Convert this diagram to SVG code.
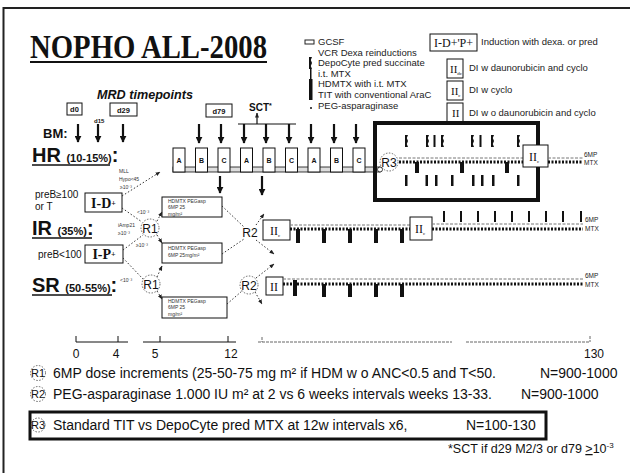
<svg xmlns="http://www.w3.org/2000/svg" width="630" height="473" viewBox="0 0 630 473">
<defs>
<marker id="ah" viewBox="0 0 10 10" refX="9" refY="5" markerWidth="7" markerHeight="7" markerUnits="userSpaceOnUse" orient="auto"><path d="M0,0 L10,5 L0,10 z" fill="#111"/></marker>
<marker id="as" viewBox="0 0 10 10" refX="9" refY="5" markerWidth="5" markerHeight="5" markerUnits="userSpaceOnUse" orient="auto"><path d="M0,1 L10,5 L0,9 z" fill="#222"/></marker>
<path id="depo" d="M0,0 h3 l-1.2,3 l1.2,3 l-1.2,3 l1.2,3 h-3 z"/>
</defs>
<style>
.s{font-family:"Liberation Sans",Arial,sans-serif;fill:#111}
.sr{font-family:"Liberation Serif","Times New Roman",serif;fill:#111}
.box{fill:#fff;stroke:#111;stroke-width:1}
.dot{fill:none;stroke:#333;stroke-width:1;stroke-dasharray:1.5 2}
.dota{fill:none;stroke:#333;stroke-width:1;stroke-dasharray:1.5 2;marker-end:url(#as)}
.big{stroke:#111;stroke-width:2.2;fill:none;marker-end:url(#ah)}
.mtx{stroke:#111;stroke-width:3;stroke-dasharray:2 1.5;fill:none}
.mp{stroke:#777;stroke-width:1;stroke-dasharray:3 1.5;fill:none}
.rc{fill:none;stroke:#444;stroke-width:0.8;stroke-dasharray:1.5 1.5}
.tiny{font-family:"Liberation Sans",Arial,sans-serif;font-size:5px;fill:#333}
.lab{font-family:"Liberation Sans",Arial,sans-serif;font-size:6.5px;fill:#222}
.leg{font-family:"Liberation Sans",Arial,sans-serif;font-size:9.5px;fill:#222}
.legr{font-family:"Liberation Sans",Arial,sans-serif;font-size:9.5px;fill:#222}
.bt{font-family:"Liberation Sans",Arial,sans-serif;font-size:14px;fill:#111}
</style>
<rect width="630" height="473" fill="#fff"/>
<!-- frame -->
<path d="M630,8 H3.5 V473" fill="none" stroke="#222" stroke-width="2"/>

<!-- title -->
<g id="title">
<text x="30" y="58" class="sr" font-size="34" font-weight="bold" textLength="237" lengthAdjust="spacingAndGlyphs">NOPHO ALL-2008</text>
<line x1="30" y1="62" x2="267" y2="62" stroke="#111" stroke-width="2"/>
</g>

<!-- legend -->
<g id="legend">
<rect x="305" y="40" width="9" height="4" fill="#fff" stroke="#222" stroke-width="1"/>
<use href="#depo" x="309" y="57" fill="#111"/>
<rect x="310" y="69" width="1.5" height="10" fill="#111"/>
<rect x="309" y="79" width="3.5" height="21" fill="#111"/>
<circle cx="311" cy="108" r="1" fill="#111"/>
<text class="leg" x="318" y="45">GCSF</text>
<text class="leg" x="318" y="55.5">VCR Dexa reinductions</text>
<text class="leg" x="318" y="66">DepoCyte pred succinate</text>
<text class="leg" x="318" y="76.5">i.t. MTX</text>
<text class="leg" x="318" y="87">HDMTX with i.t. MTX</text>
<text class="leg" x="318" y="98">TIT with conventional AraC</text>
<text class="leg" x="318" y="109">PEG-asparaginase</text>
<rect class="box" x="430" y="34" width="47" height="17"/>
<text class="sr" x="453.5" y="47" font-size="12" text-anchor="middle">I-D+'P+</text>
<text class="legr" x="481" y="45">Induction with dexa. or pred</text>
<rect class="box" x="447" y="59" width="16" height="19"/>
<text class="sr" x="450" y="73" font-size="11">II<tspan font-size="5" dy="2">dc</tspan></text>
<text class="legr" x="469" y="71">DI w daunorubicin and cyclo</text>
<rect class="box" x="447" y="81" width="16" height="19"/>
<text class="sr" x="451" y="95" font-size="11">II<tspan font-size="5" dy="2">c</tspan></text>
<text class="legr" x="469" y="93">DI w cyclo</text>
<rect class="box" x="447" y="103" width="16" height="19"/>
<text class="sr" x="452" y="117" font-size="11">II</text>
<text class="legr" x="469" y="116">DI w o daunorubicin and cyclo</text>
</g>

<!-- MRD timepoints -->
<g id="mrd">
<text class="s" x="97" y="99" font-size="12.5" font-style="italic" font-weight="bold" textLength="96" lengthAdjust="spacingAndGlyphs">MRD timepoints</text>
<rect class="box" x="67" y="103" width="15" height="12"/>
<text class="s" x="74.5" y="112" font-size="7.5" font-weight="bold" text-anchor="middle">d0</text>
<rect class="box" x="110" y="103" width="27" height="13"/>
<text class="s" x="123.5" y="112.5" font-size="7.5" font-weight="bold" text-anchor="middle">d29</text>
<rect class="box" x="206" y="104" width="26" height="13"/>
<text class="s" x="219" y="113.5" font-size="7.5" font-weight="bold" text-anchor="middle">d79</text>
<text class="s" x="94" y="123" font-size="6" font-weight="bold">d15</text>
</g>

<g id="sct">
<text class="s" x="249" y="111" font-size="10" font-weight="bold">SCT<tspan font-size="7" dy="-3">*</tspan></text>
<line x1="238" y1="124" x2="296" y2="124" stroke="#111" stroke-width="1"/>
<line x1="257" y1="124" x2="257" y2="113" stroke="#111" stroke-width="1.2" marker-end="url(#as)"/>
</g>

<!-- BM row -->
<g id="bm">
<text class="s" x="43" y="138" font-size="13" font-weight="bold">BM:</text>
<line class="big" x1="78" y1="124" x2="78" y2="142"/>
<line class="big" x1="98" y1="124" x2="98" y2="142"/>
<line class="big" x1="123" y1="124" x2="123" y2="142"/>
<line class="big" x1="199" y1="124" x2="199" y2="143"/>
<line class="big" x1="221" y1="124" x2="221" y2="143"/>
<line class="big" x1="244" y1="124" x2="244" y2="143"/>
<line class="big" x1="266" y1="124" x2="266" y2="143"/>
<line class="big" x1="289" y1="124" x2="289" y2="143"/>
<line class="big" x1="311" y1="124" x2="311" y2="143"/>
<line class="big" x1="334" y1="124" x2="334" y2="143"/>
<line class="big" x1="356" y1="124" x2="356" y2="143"/>
</g>

<!-- row labels -->
<g id="hr-label">
<text class="s" x="32" y="162" font-size="20" font-weight="bold">HR <tspan font-size="11">(10-15%)</tspan>:</text>
<line x1="32" y1="165" x2="110" y2="165" stroke="#111" stroke-width="1.5"/>
</g>
<g id="ir-label">
<text class="s" x="32" y="235" font-size="20" font-weight="bold">IR <tspan font-size="11">(35%)</tspan>:</text>
<line x1="32" y1="238" x2="92" y2="238" stroke="#111" stroke-width="1.5"/>
</g>
<g id="sr-label">
<text class="s" x="32" y="292" font-size="20" font-weight="bold">SR <tspan font-size="11">(50-55%)</tspan>:</text>
<line x1="32" y1="295" x2="112" y2="295" stroke="#111" stroke-width="1.5"/>
</g>

<!-- induction -->
<g id="induction-d">
<text class="s" x="35" y="198" font-size="10">preB≥100</text>
<text class="s" x="35" y="210" font-size="10">or T</text>
<rect class="box" x="85" y="193" width="37" height="19"/>
<text class="sr" x="103.5" y="207.5" font-size="14" font-weight="bold" text-anchor="middle">I-D<tspan font-size="8" dy="-2">+</tspan></text>
</g>
<g id="induction-p">
<text class="s" x="38" y="258" font-size="10">preB&lt;100</text>
<rect class="box" x="85" y="245" width="38" height="18"/>
<text class="sr" x="104" y="259" font-size="14" font-weight="bold" text-anchor="middle">I-P<tspan font-size="8" dy="-2">+</tspan></text>
</g>

<!-- HR blocks -->
<g id="hr-blocks">
<rect x="173" y="167" width="207" height="5" fill="#ddd" stroke="#111" stroke-width="0.8"/>
<circle cx="380" cy="169.5" r="2.5" fill="#fff" stroke="#111" stroke-width="0.8"/>
<g class="s" font-size="7" font-weight="bold" text-anchor="middle">
<rect class="box" x="173" y="148" width="12" height="24"/><text x="179" y="163">A</text>
<rect class="box" x="195.5" y="148" width="12" height="24"/><text x="201.5" y="163">B</text>
<rect class="box" x="218" y="148" width="12" height="24"/><text x="224" y="163">C</text>
<rect class="box" x="240.5" y="148" width="12" height="24"/><text x="246.5" y="163">A</text>
<rect class="box" x="263" y="148" width="12" height="24"/><text x="269" y="163">B</text>
<rect class="box" x="285.5" y="148" width="12" height="24"/><text x="291.5" y="163">C</text>
<rect class="box" x="308" y="148" width="12" height="24"/><text x="314" y="163">A</text>
<rect class="box" x="330.5" y="148" width="12" height="24"/><text x="336.5" y="163">B</text>
<rect class="box" x="353" y="148" width="12" height="24"/><text x="359" y="163">C</text>
</g>
<line class="big" x1="220" y1="176" x2="220" y2="193"/>
<line class="big" x1="262" y1="176" x2="262" y2="195"/>
</g>

<!-- R3 box -->
<g id="r3">
<rect x="375" y="123" width="163" height="77" fill="none" stroke="#111" stroke-width="4"/>
<circle class="rc" cx="389" cy="162" r="9"/>
<text class="s" x="389" y="166.5" font-size="12" text-anchor="middle">R3</text>
<line class="mp" x1="399" y1="158" x2="523" y2="158"/>
<line class="mtx" x1="399" y1="162" x2="523" y2="162"/>
<g fill="#111">
<use href="#depo" x="405" y="135"/><use href="#depo" x="426" y="135"/><rect x="433.5" y="135" width="2" height="12"/><use href="#depo" x="441" y="135"/>
<use href="#depo" x="471" y="135"/><rect x="479.5" y="135" width="2" height="12"/><use href="#depo" x="491" y="135"/><use href="#depo" x="517" y="135"/>
<rect x="415" y="162" width="4" height="11"/><rect x="460" y="162" width="4" height="11"/><rect x="505" y="162" width="4" height="11"/>
<rect x="405" y="175" width="2.5" height="11"/><rect x="425.5" y="175" width="2.5" height="11"/><rect x="435" y="175" width="2.5" height="11"/><rect x="451" y="175" width="2.5" height="11"/>
<rect x="472" y="175" width="2.5" height="11"/><rect x="481" y="175" width="2.5" height="11"/><rect x="492" y="175" width="2.5" height="11"/><rect x="517" y="175" width="2.5" height="11"/>
</g>
<rect class="box" x="523" y="145" width="25" height="22"/>
<text class="sr" x="529" y="161" font-size="12">II<tspan font-size="5" dy="2">c</tspan></text>
<line class="mp" x1="548" y1="158" x2="583" y2="158"/>
<line class="mtx" x1="548" y1="162" x2="583" y2="162"/>
<text class="lab" x="584" y="157">6MP</text>
<text class="lab" x="584" y="165">MTX</text>
</g>

<!-- HDMTX boxes -->
<g id="hdmtx-a">
<rect class="box" x="162" y="197" width="60" height="20"/>
<text class="tiny" x="168" y="203">HDMTX PEGasp</text>
<text class="tiny" x="168" y="209">6MP 25</text>
<text class="tiny" x="168" y="216">mg/m²</text>
</g>
<g id="hdmtx-b">
<rect class="box" x="162" y="243" width="60" height="20"/>
<text class="tiny" x="168" y="250">HDMTX PEGasp</text>
<text class="tiny" x="168" y="257">6MP 25mg/m²</text>
</g>
<g id="hdmtx-c">
<rect class="box" x="162" y="297" width="65" height="21"/>
<text class="tiny" x="168" y="303">HDMTX PEGasp</text>
<text class="tiny" x="168" y="309">6MP 25</text>
<text class="tiny" x="168" y="316">mg/m²</text>
</g>

<!-- randomisation nodes -->
<g id="r1-ir"><circle class="rc" cx="150" cy="228" r="9"/><text class="s" x="150" y="232.5" font-size="12" text-anchor="middle">R1</text></g>
<g id="r1-sr"><circle class="rc" cx="151" cy="284" r="9"/><text class="s" x="151" y="288.5" font-size="12" text-anchor="middle">R1</text></g>
<g id="r2-ir"><text class="s" x="250" y="237" font-size="12" text-anchor="middle">R2</text></g>
<g id="r2-sr"><circle class="rc" cx="249" cy="285" r="9"/><text class="s" x="249" y="289.5" font-size="12" text-anchor="middle">R2</text></g>

<!-- tiny labels -->
<g id="criteria">
<text class="tiny" x="119" y="173">MLL</text>
<text class="tiny" x="119" y="181">Hypo&lt;45</text>
<text class="tiny" x="120" y="189">≥10⁻³</text>
<text class="tiny" x="137" y="214">&lt;10⁻³</text>
<text class="tiny" x="118" y="227">iAmp21</text>
<text class="tiny" x="118" y="235">≥10⁻³</text>
<text class="tiny" x="136" y="247">≥10⁻³</text>
<text class="tiny" x="120" y="282">&lt;10⁻³</text>
</g>

<!-- IR continuation -->
<g id="ir-course">
<rect class="box" x="263" y="220" width="27" height="20"/>
<text class="sr" x="270" y="235" font-size="12">II<tspan font-size="5" dy="2">c</tspan></text>
<line class="mp" x1="290" y1="225" x2="410" y2="225"/>
<line class="mtx" x1="290" y1="229" x2="410" y2="229"/>
<g fill="#111"><rect x="296" y="229" width="4" height="14"/><rect x="322" y="229" width="4" height="14"/><rect x="348" y="229" width="4" height="14"/><rect x="374" y="229" width="4" height="14"/><rect x="400" y="229" width="4" height="14"/></g>
<rect class="box" x="410" y="217" width="22" height="23"/>
<text class="sr" x="415" y="233" font-size="12">II<tspan font-size="5" dy="2">c</tspan></text>
<line class="mp" x1="432" y1="224" x2="583" y2="224" stroke="#aaa"/>
<line class="mtx" x1="432" y1="229" x2="583" y2="229"/>
<g fill="#111"><rect x="443" y="211" width="2" height="11"/><rect x="460" y="211" width="2" height="11"/><rect x="477" y="211" width="2" height="11"/><rect x="494" y="211" width="2" height="11"/><rect x="511" y="211" width="2" height="11"/><rect x="528" y="211" width="2" height="11"/><rect x="545" y="211" width="2" height="11"/><rect x="562" y="211" width="2" height="11"/><rect x="580" y="211" width="2" height="11"/></g>
<text class="lab" x="585" y="222">6MP</text>
<text class="lab" x="585" y="231">MTX</text>
</g>

<!-- SR continuation -->
<g id="sr-course">
<rect class="box" x="266" y="277" width="17" height="18"/>
<text class="sr" x="270" y="291" font-size="12">II</text>
<line class="mp" x1="283" y1="279" x2="583" y2="279"/>
<line class="mtx" x1="283" y1="284" x2="583" y2="284"/>
<g fill="#111"><rect x="293" y="280" width="4" height="16"/><rect x="322" y="284" width="4" height="13"/><rect x="348" y="284" width="4" height="13"/><rect x="374" y="284" width="4" height="13"/><rect x="400" y="284" width="4" height="13"/></g>
<text class="lab" x="585" y="278">6MP</text>
<text class="lab" x="585" y="287">MTX</text>
</g>

<!-- connectors -->
<g id="connectors">
<line class="dota" x1="122" y1="196" x2="160" y2="172"/>
<line class="dot" x1="122" y1="208" x2="142" y2="222"/>
<line class="dot" x1="123" y1="250" x2="143" y2="235"/>
<line class="dot" x1="123" y1="258" x2="143" y2="279"/>
<line class="dota" x1="157" y1="221" x2="162" y2="212"/>
<line class="dota" x1="157" y1="235" x2="162" y2="243"/>
<line class="dota" x1="157" y1="277" x2="162" y2="266"/>
<line class="dota" x1="157" y1="291" x2="162" y2="299"/>
<line class="dot" x1="222" y1="206" x2="244" y2="227"/>
<line class="dot" x1="222" y1="254" x2="244" y2="239"/>
<line class="dota" x1="256" y1="225" x2="264" y2="214"/>
<line class="dota" x1="256" y1="240" x2="274" y2="254"/>
<line class="dot" x1="227" y1="304" x2="242" y2="291"/>
<line class="dota" x1="256" y1="278" x2="274" y2="264"/>
<line class="dota" x1="255" y1="292" x2="262" y2="304"/>
</g>

<!-- timeline -->
<g id="timeline" stroke="#111" stroke-width="1" fill="none">
<path d="M76,342 H128 M76,336 V342 M118,336 V342"/>
<path d="M143,342 H236 M160,336 V342 M228,336 V342"/>
<path d="M258,342 H452 M466,342 H590 M262,337 V342 M590,336 V342" stroke="#666" stroke-dasharray="3 1"/>
</g>
<g id="timeline-labels" class="s" font-size="12" text-anchor="middle">
<text x="76" y="358">0</text><text x="116" y="358">4</text><text x="155" y="358">5</text><text x="231" y="358">12</text><text x="594" y="358">130</text>
</g>

<!-- bottom notes -->
<g id="notes">
<circle class="rc" cx="38" cy="373" r="7.5"/><text class="s" x="38" y="377" font-size="11" text-anchor="middle">R1</text>
<text class="bt" x="53" y="378">6MP dose increments (25-50-75 mg m² if HDM w o ANC&lt;0.5 and T&lt;50.</text>
<text class="bt" x="540" y="378">N=900-1000</text>
<circle class="rc" cx="38" cy="394" r="7.5"/><text class="s" x="38" y="398" font-size="11" text-anchor="middle">R2</text>
<text class="bt" x="53" y="399">PEG-asparaginase 1.000 IU m² at 2 vs 6 weeks intervals weeks 13-33.</text>
<text class="bt" x="521" y="399">N=900-1000</text>
<rect x="30" y="412" width="516" height="27" fill="none" stroke="#111" stroke-width="3"/>
<circle class="rc" cx="38" cy="425" r="7"/><text class="s" x="38" y="429" font-size="11" text-anchor="middle">R3</text>
<text class="bt" x="53" y="430">Standard TIT vs DepoCyte pred MTX at 12w intervals x6,</text>
<text class="bt" x="466" y="430">N=100-130</text>
<text class="s" x="448" y="453" font-size="12.5">*SCT if d29 M2/3 or d79 <tspan text-decoration="underline">&gt;</tspan>10<tspan font-size="8" dy="-5">-3</tspan></text>
</g>
</svg>
